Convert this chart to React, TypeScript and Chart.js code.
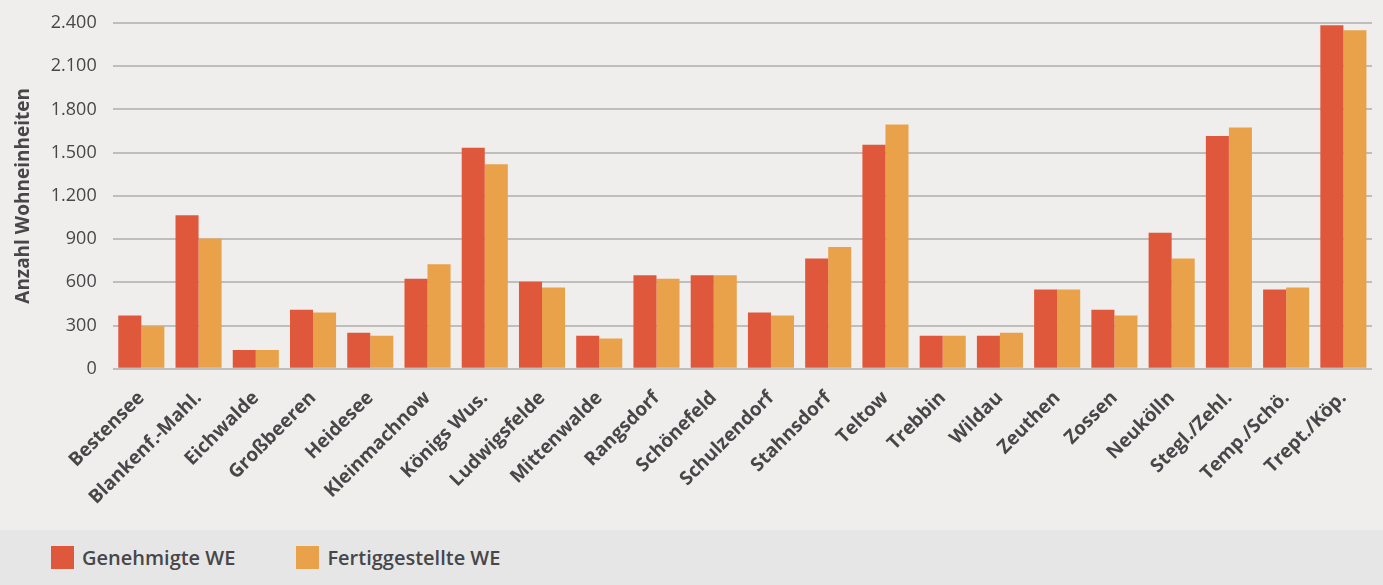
import React, { useEffect, useRef } from "react";
import { Chart, registerables } from "chart.js";

Chart.register(...registerables);

const categories = [
  "Bestensee", "Blankenf.-Mahl.", "Eichwalde", "Großbeeren", "Heidesee", "Kleinmachnow",
  "Königs Wus.", "Ludwigsfelde", "Mittenwalde", "Rangsdorf", "Schönefeld", "Schulzendorf",
  "Stahnsdorf", "Teltow", "Trebbin", "Wildau", "Zeuthen", "Zossen", "Neukölln",
  "Stegl./Zehl.", "Temp./Schö.", "Trept./Köp.",
];

const genehmigte = [370, 1065, 130, 410, 250, 625, 1535, 605, 230, 650, 650, 390, 765, 1555, 230, 230, 550, 410, 945, 1615, 550, 2385];
const fertiggestellte = [295, 905, 130, 390, 230, 725, 1420, 565, 210, 625, 650, 370, 845, 1695, 230, 250, 550, 370, 765, 1675, 565, 2350];

const seriesNames = ["Genehmigte WE", "Fertiggestellte WE"];
const seriesColors = ["#e0583b", "#e9a14a"];
const yTitle = "Anzahl Wohneinheiten";

const FONT = "'Open Sans', sans-serif";
const TEXT = "#47474a";

function fmt(v: number): string {
  const s = String(Math.round(v));
  return s.replace(/\B(?=(\d{3})+(?!\d))/g, ".");
}

export default function App() {
  const ref = useRef<HTMLCanvasElement | null>(null);

  useEffect(() => {
    document.body.style.margin = "0";
    const canvas = ref.current;
    if (!canvas) return;
    const bgPlugin = {
      id: "bg",
      beforeDraw(chart: any) {
        const { ctx, width, height } = chart;
        ctx.save();
        ctx.fillStyle = "#efeeec";
        ctx.fillRect(0, 0, width, height);
        ctx.restore();
      },
    };
    const chart = new Chart(canvas, {
      type: "bar",
      data: {
        labels: categories,
        datasets: [
          { label: seriesNames[0], data: genehmigte, backgroundColor: seriesColors[0], borderWidth: 0 },
          { label: seriesNames[1], data: fertiggestellte, backgroundColor: seriesColors[1], borderWidth: 0 },
        ],
      },
      options: {
        responsive: false,
        animation: false,
        layout: { padding: { top: 23, right: 11, bottom: 11, left: 12 } },
        datasets: { bar: { categoryPercentage: 0.805, barPercentage: 1.0 } },
        plugins: { legend: { display: false }, tooltip: { enabled: false } },
        scales: {
          x: {
            grid: { display: false },
            border: { display: false },
            afterFit: (scale: any) => {
              scale.paddingLeft = 0;
              scale.paddingRight = 0;
            },
            ticks: {
              autoSkip: false,
              maxRotation: 45,
              minRotation: 45,
              color: TEXT,
              padding: 10,
              font: { family: FONT, size: 19, weight: "bold" },
            },
          },
          y: {
            min: 0,
            max: 2400,
            border: { display: false },
            grid: { color: "#bfbebc", lineWidth: 2, drawTicks: false },
            afterFit: (scale: any) => {
              scale.paddingTop = 0;
              scale.paddingBottom = 0;
            },
            ticks: {
              stepSize: 300,
              color: TEXT,
              padding: 16,
              font: { family: FONT, size: 18 },
              callback: (v: any) => fmt(Number(v)),
            },
            title: {
              display: true,
              text: yTitle,
              color: TEXT,
              padding: { top: 0, bottom: 0 },
              font: { family: FONT, size: 19, weight: "bold" },
            },
          },
        },
      },
      plugins: [bgPlugin],
    } as any);
    return () => chart.destroy();
  }, []);

  return (
    <div style={{ width: 1383, height: 585, background: "#efeeec" }}>
      <canvas ref={ref} width={1383} height={530} style={{ display: "block" }} />
      <div
        style={{
          height: 55,
          background: "#e6e6e6",
          display: "flex",
          alignItems: "center",
          paddingLeft: 51,
          fontFamily: FONT,
          fontWeight: 600,
          fontSize: 20,
          color: TEXT,
        }}
      >
        {seriesNames.map((n, i) => (
          <div key={n} style={{ display: "flex", alignItems: "center", marginRight: 61 }}>
            <span style={{ display: "inline-block", width: 23, height: 23, background: seriesColors[i], marginRight: 8 }} />
            <span>{n}</span>
          </div>
        ))}
      </div>
    </div>
  );
}
